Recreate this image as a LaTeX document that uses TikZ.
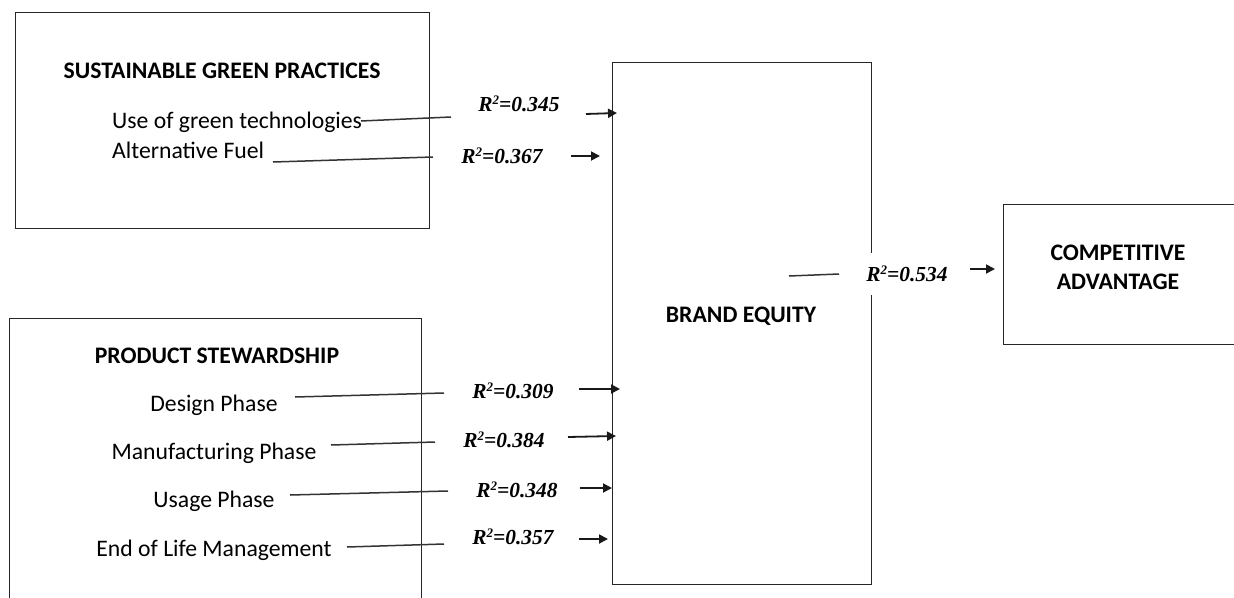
\documentclass[tikz,border=0pt]{standalone}
\usepackage{fontspec}
\setmainfont{Carlito}
\newfontfamily\tnr{Liberation Serif}
\usetikzlibrary{arrows.meta}
\tikzset{
  box/.style={draw=black!85, line width=1.3pt, inner sep=0pt},
  title/.style={font=\fontsize{23.7}{28}\selectfont\bfseries, inner sep=0pt, anchor=base},
  item/.style={font=\fontsize{23.7}{28}\selectfont, inner sep=0pt, anchor=base},
  rlab/.style={font=\tnr\fontsize{21.4}{26}\selectfont\bfseries\itshape, inner sep=0pt, anchor=base},
  link/.style={draw=black!80, line width=1.5pt},
  arr/.style={draw=black!90, line width=1.8pt, -{Triangle[length=9pt,width=9pt]}},
}
\newcommand{\rsq}[1]{R\raisebox{6.5pt}{\fontsize{13}{13}\selectfont 2}=#1}
\begin{document}
\begin{tikzpicture}[x=1pt,y=-1pt]
\clip (0,0) rectangle (1234,597);
\fill[white] (0,0) rectangle (1234,597);
% boxes
\node[box, anchor=north west, minimum width=414pt, minimum height=216pt] (sgp) at (15,12) {};
\node[box, anchor=north west, minimum width=412pt, minimum height=300pt] (ps) at (9,318) {};
\node[box, anchor=north west, minimum width=259pt, minimum height=522pt] (be) at (612,62) {};
\node[box, anchor=north west, minimum width=260pt, minimum height=140pt] (ca) at (1003,204) {};
% texts
\node[title] (sgpT) at (222,78) {SUSTAINABLE GREEN PRACTICES};
\node[item, anchor=base west] (t1) at (112,128) {Use of green technologies};
\node[item, anchor=base west] (t2) at (112,158) {Alternative Fuel};
\node[title] (psT) at (217,363) {PRODUCT STEWARDSHIP};
\node[item] (p1) at (214,411) {Design Phase};
\node[item] (p2) at (214,459) {Manufacturing Phase};
\node[item] (p3) at (214,507) {Usage Phase};
\node[item] (p4) at (214,556) {End of Life Management};
\node[title] (beT) at (741,322) {BRAND EQUITY};
\node[title] (caT1) at (1118,260) {COMPETITIVE};
\node[title] (caT2) at (1118,289) {ADVANTAGE};
% labels
\node[rlab] (r1) at (519,111) {\rsq{0.345}};
\node[rlab] (r2) at (502,163) {\rsq{0.367}};
\node[rlab] (r3) at (513,398) {\rsq{0.309}};
\node[rlab] (r4) at (504,447) {\rsq{0.384}};
\node[rlab] (r5) at (517,497) {\rsq{0.348}};
\node[rlab] (r6) at (513,544) {\rsq{0.357}};
\node[rlab, fill=white, text height=14pt, text depth=0pt, inner ysep=14pt, inner xsep=1pt] (r7) at (907,281) {\rsq{0.534}};
% line coordinates
\coordinate (l1s) at (361,121); \coordinate (l1e) at (451,117);
\coordinate (l2s) at (273,162); \coordinate (l2e) at (433,157);
\coordinate (l3s) at (295,397); \coordinate (l3e) at (444,393);
\coordinate (l4s) at (331,445); \coordinate (l4e) at (435,442);
\coordinate (l5s) at (290,495); \coordinate (l5e) at (448,491);
\coordinate (l6s) at (347,547); \coordinate (l6e) at (444,544);
\coordinate (l7s) at (789,276); \coordinate (l7e) at (839,274);
\draw[link] (l1s) -- (l1e);
\draw[link] (l2s) -- (l2e);
\draw[link] (l3s) -- (l3e);
\draw[link] (l4s) -- (l4e);
\draw[link] (l5s) -- (l5e);
\draw[link] (l6s) -- (l6e);
\draw[link] (l7s) -- (l7e);
% arrows
\coordinate (a1s) at (586,114); \coordinate (a1e) at (617,113);
\coordinate (a2s) at (571,156); \coordinate (a2e) at (600,156);
\coordinate (a3s) at (579,389); \coordinate (a3e) at (620,389);
\coordinate (a4s) at (568,437); \coordinate (a4e) at (616,436);
\coordinate (a5s) at (580,488); \coordinate (a5e) at (612,488);
\coordinate (a6s) at (579,539); \coordinate (a6e) at (608,539);
\coordinate (a7s) at (970,269); \coordinate (a7e) at (995,269);
\draw[arr] (a1s) -- (a1e);
\draw[arr] (a2s) -- (a2e);
\draw[arr] (a3s) -- (a3e);
\draw[arr] (a4s) -- (a4e);
\draw[arr] (a5s) -- (a5e);
\draw[arr] (a6s) -- (a6e);
\draw[arr] (a7s) -- (a7e);
\end{tikzpicture}
\end{document}
